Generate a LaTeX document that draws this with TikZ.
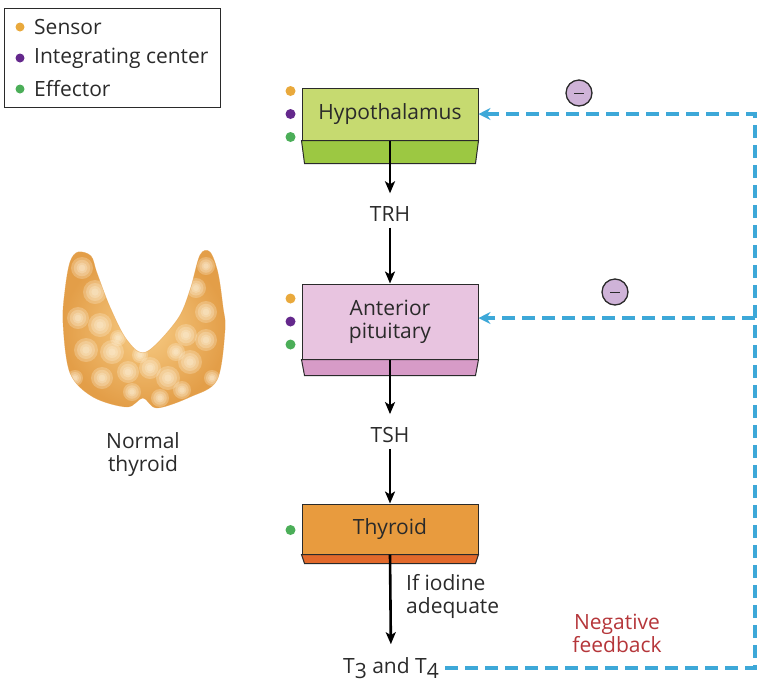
\documentclass[tikz,border=0pt]{standalone}
\usepackage{fontspec}
\setmainfont{Open Sans}
\usepackage{tikz}
\usetikzlibrary{calc,arrows.meta}
\usepackage{xcolor}
\definecolor{boxline}{HTML}{2A2A2A}
\definecolor{hypofill}{HTML}{C6DA70}
\definecolor{hypodark}{HTML}{9CC842}
\definecolor{pitfill}{HTML}{E8C4E0}
\definecolor{pitdark}{HTML}{D79BC7}
\definecolor{thyfill}{HTML}{E89B3E}
\definecolor{thydark}{HTML}{E2692B}
\definecolor{sensor}{HTML}{E9A93C}
\definecolor{integ}{HTML}{64288C}
\definecolor{effect}{HTML}{4BAE58}
\definecolor{fbblue}{HTML}{3DA8D8}
\definecolor{fbred}{HTML}{B5363A}
\definecolor{minusfill}{HTML}{CFB3D8}
\definecolor{glandhi}{HTML}{FFF5E0}
\definecolor{glandmid}{HTML}{F7CC85}
\definecolor{glandlo}{HTML}{E39E48}
\newcommand\diagfont{\fontsize{21}{23}\selectfont}
\tikzstyle{organ}=[draw=boxline, line width=1pt, minimum width=176pt, align=center, text=boxline]
\tikzstyle{slab}=[draw=boxline, line width=1pt]
\tikzstyle{hormone}=[inner sep=0pt, text=boxline]
\tikzstyle{flow}=[line width=2.6pt, -{Stealth[length=12pt, width=10pt, inset=3pt]}]
\tikzstyle{feedback}=[draw=fbblue, line width=3.2pt, dash pattern=on 13pt off 7pt, -{Stealth[length=12pt, width=12pt, inset=4pt]}]
\tikzstyle{minus}=[circle, draw=boxline, fill=minusfill, line width=1.3pt, minimum size=26pt, inner sep=0pt]
\newcommand\glandpath{plot[smooth cycle, tension=0.55] coordinates {(78,252) (70,262) (65,290) (63,323) (70,373) (93,397) (127,407) (143,398) (157,408) (190,397) (217,380) (225,330) (223,307) (218,273) (210,252) (200,255) (190,290) (177,320) (146,352) (127,340) (110,307) (97,273) (91,256)}}

\begin{document}
\begin{tikzpicture}[x=1pt, y=-1pt, font=\diagfont]
\useasboundingbox (0,0) rectangle (767,697);

% legend
\draw[draw=boxline, line width=1pt] (4,8) rectangle (220,107);
\foreach \c/\y/\t in {sensor/27/Sensor, integ/58/Integrating center, effect/89/Effector} {
 \fill[\c] (20,\y) circle (4.5);
 \node[hormone, anchor=west] (key\c) at (34,\y) {\t};
}

% organs
\node[organ, fill=hypofill, minimum height=52pt] (hypo) at (390,114) {Hypothalamus};
\node[organ, fill=pitfill, minimum height=75pt] (pit) at (390,321.5) {Anterior\\pituitary};
\node[organ, fill=thyfill, minimum height=50pt] (thy) at (390,529) {Thyroid};
\foreach \n/\c/\h in {hypo/hypodark/23, pit/pitdark/16, thy/thydark/9}
 \draw[slab, fill=\c] (\n.south west) -- (\n.south east) -- ($(\n.south east)+(-3,\h)$) -- ($(\n.south west)+(3,\h)$) -- cycle;
\foreach \n in {hypo, pit}
 \foreach \c/\dy in {sensor/-23, integ/0, effect/23}
  \fill[\c] ($(\n.west)+(-11,\dy)$) circle (5);
\fill[effect] ($(thy.west)+(-11,1)$) circle (5);

% hormones
\node[hormone] (trh) at (390,214) {TRH};
\node[hormone] (tsh) at (390,435) {TSH};
\node[hormone] (t34) at (391,668) {T\raisebox{-0.45ex}{3} and T\raisebox{-0.45ex}{4}};
\node[hormone, anchor=west, align=left] (iodine) at (406,596) {If iodine\\adequate};
\draw[flow, shorten >=13pt] (hypo.south) -- (trh.north);
\draw[flow, shorten <=6pt] (trh.south) -- (pit.north);
\draw[flow, shorten >=13pt] (pit.south) -- (tsh.north);
\draw[flow, shorten <=6pt] (tsh.south) -- (thy.north);
\draw[flow, shorten >=13pt] (thy.south) -- (t34.north);

% negative feedback
\coordinate (fbcorner) at (755,668);
\coordinate (fbtop) at (755,114);
\coordinate (fbmid) at (755,318);
\draw[feedback, shorten <=6pt] (t34.east) -- (fbcorner) -- (fbtop) -- (fbtop -| hypo.east);
\draw[feedback] (fbmid) -- (fbmid -| pit.east);
\foreach \n/\x/\y in {inhibhypo/579/93, inhibpit/615/292} {
 \node[minus] (\n) at (\x,\y) {};
 \draw[boxline, line width=1pt] ($(\n.center)+(-5,0)$) -- ($(\n.center)+(5,0)$);
}
\node[hormone, text=fbred, align=center] (fblabel) at (617,633) {Negative\\feedback};

% thyroid gland
\shade[inner color=glandmid, outer color=glandlo] \glandpath;
\begin{scope}
 \clip \glandpath;
 \foreach \x/\y/\r in {82/268/11, 95/292/12, 78/318/11, 100/325/12, 86/350/12, 112/352/12, 102/378/11, 128/372/11, 150/368/11, 168/378/12, 160/398/9, 190/362/12, 206/340/11, 186/335/11, 206/312/11, 196/288/10, 206/266/9, 176/352/9, 132/392/9, 75/378/8, 212/378/8, 118/338/8, 182/390/9, 140/355/8}
  \foreach \k in {1,0.75,0.5,0.3}
   \fill[glandhi, opacity=0.26] (\x,\y) circle (\k*\r);
\end{scope}
\draw[glandlo, line width=0.5pt, opacity=0.5] \glandpath;
\node[hormone, align=center] (glandlabel) at (143,455) {Normal\\thyroid};
\end{tikzpicture}
\end{document}
